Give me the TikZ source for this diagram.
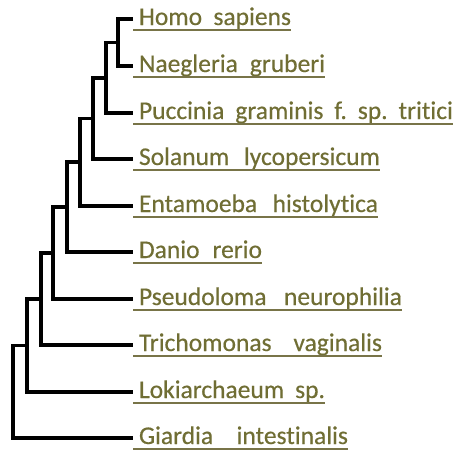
\documentclass[tikz,border=0pt]{standalone}
\usepackage{fontspec}
\setmainfont{Carlito}[Ligatures=NoCommon,FakeBold=0.4]
\definecolor{olivetext}{RGB}{112,110,52}
\definecolor{oliveline}{RGB}{120,116,72}
\newcommand{\spreadlabel}[2]{\makebox[#1pt][s]{#2}}
\begin{document}
\begin{tikzpicture}[x=1pt,y=-1pt,
  tree/.style={line width=3.5pt,black,line join=miter},
  taxon/.style={anchor=base west,inner sep=0pt,outer sep=0pt,text=olivetext,font=\fontsize{25.5}{30}\selectfont},
  uline/.style={line width=1.5pt,oliveline}]
\useasboundingbox[fill=white] (0,0) rectangle (457,450);
% leaf tips
\coordinate (tHomo) at (133,19);
\coordinate (tNaeg) at (133,66);
\coordinate (tPucc) at (133,113);
\coordinate (tSol)  at (133,159);
\coordinate (tEnt)  at (133,206);
\coordinate (tDan)  at (133,252);
\coordinate (tPse)  at (133,299);
\coordinate (tTri)  at (133,345);
\coordinate (tLok)  at (133,392);
\coordinate (tGia)  at (133,438);
% internal nodes
\coordinate (n1) at (118,42.5);
\coordinate (n2) at (106,77.75);
\coordinate (n3) at (93,118.4);
\coordinate (n4) at (80,162.2);
\coordinate (n5) at (67,207);
\coordinate (n6) at (53,253);
\coordinate (n7) at (41,299);
\coordinate (n8) at (27,345.5);
\coordinate (n9) at (13,391.75);
% labels
\node[taxon] (Homo) at (139,25)  {\spreadlabel{152}{Homo\hfill sapiens}};
\node[taxon] (Naeg) at (139,72)  {\spreadlabel{186}{Naegleria\hfill gruberi}};
\node[taxon] (Pucc) at (139,119) {\spreadlabel{314}{Puccinia\hfill graminis\hfill f.\hfill sp.\hfill tritici}};
\node[taxon] (Sol)  at (139,165) {\spreadlabel{241}{Solanum\hfill lycopersicum}};
\node[taxon] (Ent)  at (139,212) {\spreadlabel{239}{Entamoeba\hfill histolytica}};
\node[taxon] (Dan)  at (139,258) {\spreadlabel{123}{Danio\hfill rerio}};
\node[taxon] (Pse)  at (139,305) {\spreadlabel{263}{Pseudoloma\hfill neurophilia}};
\node[taxon] (Tri)  at (139,351) {\spreadlabel{243}{Trichomonas\hfill vaginalis}};
\node[taxon] (Lok)  at (139,398) {\spreadlabel{186}{Lokiarchaeum\hfill sp.}};
\node[taxon] (Gia)  at (139,444) {\spreadlabel{209}{Giardia\hfill intestinalis}};
% underlines
\foreach \n in {Homo,Naeg,Pucc,Sol,Ent,Dan,Pse,Tri,Lok,Gia}{
  \draw[uline] ([yshift=-11pt]t\n) -- ([yshift=-11pt]t\n -| \n.east);
}
% tree
\draw[tree] (tHomo) -| (n1) |- (tNaeg);
\draw[tree] (n1) -| (n2) |- (tPucc);
\draw[tree] (n2) -| (n3) |- (tSol);
\draw[tree] (n3) -| (n4) |- (tEnt);
\draw[tree] (n4) -| (n5) |- (tDan);
\draw[tree] (n5) -| (n6) |- (tPse);
\draw[tree] (n6) -| (n7) |- (tTri);
\draw[tree] (n7) -| (n8) |- (tLok);
\draw[tree] (n8) -| (n9) |- (tGia);
\end{tikzpicture}
\end{document}
